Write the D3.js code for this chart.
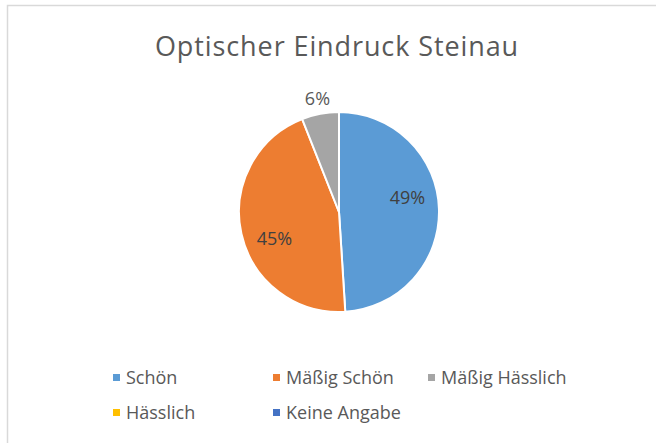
<!DOCTYPE html>
<html>
<head>
<meta charset="utf-8">
<script src="https://cdn.jsdelivr.net/npm/d3@7"></script>
<style>
  body { margin: 0; background: #fff; }
  text { font-family: "Open Sans", "Noto Sans", sans-serif; }
</style>
</head>
<body>
<div id="viz"></div>
<script>
// chart data
var categories = ['Schön', 'Mäßig Schön', 'Mäßig Hässlich', 'Hässlich', 'Keine Angabe'];
var shares = [49, 45, 6, 0, 0];
var colorList = ['#5B9BD5', '#ED7D31', '#A5A5A5', '#FFC000', '#4472C4'];
var title = 'Optischer Eindruck Steinau';

var width = 656, height = 443;
var cx = 339, cy = 212, radius = 100;

var svg = d3.select('#viz').append('svg')
  .attr('width', width)
  .attr('height', height);

// chart frame (only left/top edges visible in the crop)
svg.append('rect')
  .attr('x', 7.5).attr('y', 5.5)
  .attr('width', 700).attr('height', 500)
  .attr('fill', 'white')
  .attr('stroke', '#d9d9d9')
  .attr('stroke-width', 1.5);

svg.append('text')
  .attr('x', 337).attr('y', 56)
  .attr('text-anchor', 'middle')
  .attr('fill', '#595959')
  .style('font-size', '27px')
  .style('letter-spacing', '0.9px')
  .text(title);

var data = categories.map(function(c, i) { return { name: c, value: shares[i] }; });

var color = d3.scaleOrdinal().domain(categories).range(colorList);

var pie = d3.pie().sort(null).value(function(d) { return d.value; });
var arc = d3.arc().innerRadius(0).outerRadius(radius);

var g = svg.append('g').attr('transform', 'translate(' + cx + ',' + cy + ')');

var arcs = pie(data).filter(function(d) { return d.data.value > 0; });

g.selectAll('path').data(arcs)
  .enter().append('path')
  .attr('d', arc)
  .attr('fill', function(d) { return color(d.data.name); })
  .attr('stroke', 'white')
  .attr('stroke-width', 2);

// labels: big slices inside (nudged like excel's best fit), small ones outside
function labelPos(d) {
  var mid = (d.startAngle + d.endAngle) / 2;
  var r = radius * 1.15;
  if (d.data.value >= 10) {
    mid -= 10 * Math.PI / 180;
    r = radius * 0.7;
  }
  return [r * Math.sin(mid), -r * Math.cos(mid)];
}

g.selectAll('text.lbl').data(arcs)
  .enter().append('text')
  .attr('class', 'lbl')
  .attr('transform', function(d) { return 'translate(' + labelPos(d) + ')'; })
  .attr('text-anchor', 'middle')
  .attr('dy', '0.35em')
  .attr('fill', function(d) { return d.data.value < 10 ? '#595959' : '#404040'; })
  .style('font-size', '18px')
  .text(function(d) { return d.data.value + '%'; });

// legend, 3 per row
var colX = [113, 273, 428];
var rowY = [378, 413];
var legend = svg.selectAll('g.leg').data(categories)
  .enter().append('g')
  .attr('class', 'leg')
  .attr('transform', function(d, i) {
    return 'translate(' + colX[i % 3] + ',' + rowY[Math.floor(i / 3)] + ')';
  });

legend.append('rect')
  .attr('x', 0).attr('y', -4)
  .attr('width', 7).attr('height', 7)
  .attr('fill', function(d) { return color(d); });

legend.append('text')
  .attr('x', 13).attr('y', 0)
  .attr('dy', '0.35em')
  .attr('fill', '#595959')
  .style('font-size', '18px')
  .text(function(d) { return d; });
</script>
</body>
</html>
